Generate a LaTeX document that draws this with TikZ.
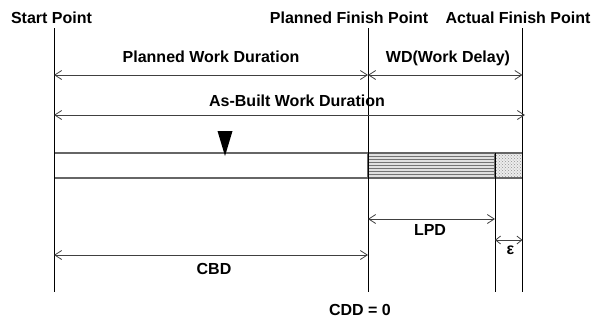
\documentclass[tikz,border=0pt]{standalone}
\usepackage{fontspec}
\setmainfont{Liberation Sans}
\usetikzlibrary{arrows.meta,patterns}
\begin{document}
\begin{tikzpicture}[x=1pt,y=-1pt,
  lbl/.style={font=\bfseries\fontsize{16}{18}\selectfont, inner sep=0pt},
  dimline/.style={draw=black!75, line width=0.9pt,
    {Straight Barb[length=7pt,width=9pt,line width=0.8pt]}-{Straight Barb[length=7pt,width=9pt,line width=0.8pt]}},
  vline/.style={draw=black, line width=0.9pt},
  barline/.style={draw=black!60, line width=1.4pt}]
\useasboundingbox (0,0) rectangle (597,322);
% vertical reference lines
\coordinate (s1) at (54,28);  \coordinate (s2) at (54,292);
\coordinate (p1) at (368,28); \coordinate (p2) at (368,292);
\coordinate (a1) at (522.5,28); \coordinate (a2) at (522.5,292);
\coordinate (l1) at (495,153); \coordinate (l2) at (495,292);
% bar
\fill[black!12] (368,153) rectangle (495,178);
\foreach \yy in {156,159,...,176} \draw[black!55, line width=0.6pt] (368,\yy) -- (495,\yy);
\fill[pattern=crosshatch dots, pattern color=black!70] (495,153) rectangle (522.5,178);
\fill[black!15, opacity=0.5] (495,153) rectangle (522.5,178);
\draw[barline] (54,153) -- (522.5,153);
\draw[barline] (54,178) -- (522.5,178);
\draw[barline] (368,153) -- (368,178) (495,153) -- (495,178) (522.5,153) -- (522.5,178);
\draw[vline] (s1) -- (s2);
\draw[vline] (p1) -- (p2);
\draw[vline] (a1) -- (a2);
\draw[vline] (l1) -- (l2);
% triangle marker
\fill[black] (217.5,131) -- (232.5,131) -- (225,156) -- cycle;
% headings
\node[lbl] (tstart) at (51.5,18) {Start Point};
\node[lbl] (tplan) at (349,18) {Planned Finish Point};
\node[lbl] (tact) at (518,18) {Actual Finish Point};
% dimension coordinates
\coordinate (pw1) at (54,75);  \coordinate (pw2) at (368,75);
\coordinate (wd1) at (368,75); \coordinate (wd2) at (522.5,75);
\coordinate (ab1) at (54,115); \coordinate (ab2) at (525,115);
\coordinate (lp1) at (368,219); \coordinate (lp2) at (495,219);
\coordinate (ep1) at (495,240); \coordinate (ep2) at (522.5,240);
\coordinate (cb1) at (54,255); \coordinate (cb2) at (368,255);
\draw[dimline] (pw1) -- (pw2);
\draw[dimline] (wd1) -- (wd2);
\draw[dimline] (ab1) -- (ab2);
\draw[dimline] (lp1) -- (lp2);
\draw[dimline, {Straight Barb[length=5pt,width=8pt,line width=0.8pt]}-{Straight Barb[length=5pt,width=8pt,line width=0.8pt]}] (ep1) -- (ep2);
\draw[dimline] (cb1) -- (cb2);
% labels
\node[lbl] (lpw) at (211,57) {Planned Work Duration};
\node[lbl] (lwd) at (448,58) {WD(Work Delay)};
\node[lbl] (lab) at (297,101) {As-Built Work Duration};
\node[lbl] (llp) at (430,230) {LPD};
\node[lbl, font=\bfseries\fontsize{16}{18}\selectfont] (lep) at (510.5,250) {ε};
\node[lbl] (lcb) at (214,269) {CBD};
\node[lbl] (lcd) at (360,309.5) {CDD = 0};
\end{tikzpicture}
\end{document}
